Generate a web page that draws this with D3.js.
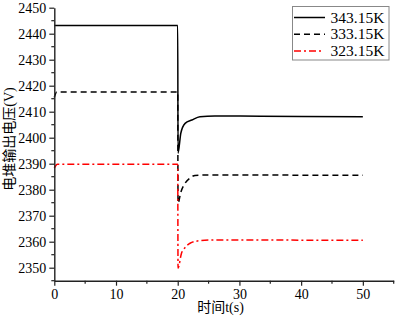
<!DOCTYPE html>
<html lang="zh">
<head>
    <meta charset="UTF-8">
    <title>电堆输出电压</title>
    <script src="https://cdn.jsdelivr.net/npm/d3@7/dist/d3.min.js"></script>
    <style>
        body { margin: 0; background: #fff; }
    </style>
</head>
<body>
<script>
    const width = 397, height = 316;
    const serif = "'Liberation Serif', 'Times New Roman', serif";
    const cjk = "'Liberation Serif', 'Noto Sans CJK SC', serif";

    // 数据
    const t343 = [0, 20, 20.05, 20.5, 21.2, 22.3, 23.6, 26, 30, 40, 50];
    const v343 = [2443.2, 2443.2, 2394, 2401.7, 2405.5, 2406.8, 2408.1, 2408.3, 2408.3, 2408.2, 2408.1];
    const t333 = [0, 0.4, 20, 20.05, 20.5, 21.2, 22, 22.8, 25, 30, 40, 50];
    const v333 = [2415.5, 2417.6, 2417.6, 2374.8, 2379, 2382.5, 2384.5, 2385.5, 2385.7, 2385.7, 2385.6, 2385.6];
    const t323 = [0, 0.5, 20, 20.05, 20.6, 21.2, 22, 23.6, 26, 30, 40, 50];
    const v323 = [2388.3, 2389.8, 2389.8, 2349.8, 2355.5, 2357.8, 2359.4, 2360.4, 2360.7, 2360.7, 2360.6, 2360.6];

    const seriesNames = ['343.15K', '333.15K', '323.15K'];
    const xTicks = [0, 10, 20, 30, 40, 50];
    const yTicks = [2350, 2360, 2370, 2380, 2390, 2400, 2410, 2420, 2430, 2440, 2450];

    const series = [
        {name: seriesNames[0], t: t343, v: v343, color: '#000', dash: null},
        {name: seriesNames[1], t: t333, v: v333, color: '#000', dash: '6,4'},
        {name: seriesNames[2], t: t323, v: v323, color: '#ff0000', dash: '7,3,2,3'}
    ];

    const x = d3.scaleLinear().domain([0, 55]).range([54.3, 393.7]);
    const y = d3.scaleLinear().domain([2345, 2450]).range([280.7, 7.7]);

    const svg = d3.select('body').append('svg')
        .attr('width', width)
        .attr('height', height);

    // 曲线
    const line = d3.line()
        .x(d => x(d[0]))
        .y(d => y(d[1]))
        .curve(d3.curveMonotoneX);

    svg.selectAll('path.series')
        .data(series)
        .enter().append('path')
        .attr('class', 'series')
        .attr('fill', 'none')
        .attr('stroke', d => d.color)
        .attr('stroke-width', 1.5)
        .attr('stroke-dasharray', d => d.dash)
        .attr('d', d => line(d.t.map((t, i) => [t, d.v[i]])));

    // 坐标轴
    const xAxis = svg.append('g')
        .attr('transform', `translate(0,${y(2345)})`)
        .call(d3.axisBottom(x).tickValues(xTicks).tickFormat(d3.format('d'))
            .tickSize(5).tickSizeOuter(0).tickPadding(3));
    const yAxis = svg.append('g')
        .attr('transform', `translate(${x(0)},0)`)
        .call(d3.axisLeft(y).tickValues(yTicks).tickFormat(d3.format('d'))
            .tickSize(5).tickSizeOuter(0).tickPadding(3));

    [xAxis, yAxis].forEach(g => {
        g.attr('font-family', serif).attr('font-size', 14);
        g.select('.domain').attr('stroke', '#222').attr('stroke-width', 1.4);
        g.selectAll('.tick line').attr('stroke', '#222').attr('stroke-width', 1.2);
        g.selectAll('.tick text').attr('fill', '#000');
    });

    // 次刻度
    svg.append('g').selectAll('line')
        .data(d3.range(5, 60, 10))
        .enter().append('line')
        .attr('x1', d => x(d)).attr('x2', d => x(d))
        .attr('y1', y(2345)).attr('y2', y(2345) + 3)
        .attr('stroke', '#222').attr('stroke-width', 1.2);
    svg.append('g').selectAll('line')
        .data(d3.range(2345, 2450, 10))
        .enter().append('line')
        .attr('x1', x(0) - 3).attr('x2', x(0))
        .attr('y1', d => y(d)).attr('y2', d => y(d))
        .attr('stroke', '#222').attr('stroke-width', 1.2);

    // 轴标题
    svg.append('text')
        .attr('x', 220.5).attr('y', 312)
        .attr('text-anchor', 'middle')
        .attr('font-family', cjk).attr('font-size', 14)
        .text('时间t(s)');
    svg.append('text')
        .attr('transform', 'translate(14,139) rotate(-90)')
        .attr('text-anchor', 'middle')
        .attr('font-family', cjk).attr('font-size', 14)
        .text('电堆输出电压(V)');

    // 图例
    const legend = svg.append('g');
    legend.append('rect')
        .attr('x', 292.5).attr('y', 6.5)
        .attr('width', 96.5).attr('height', 53.5)
        .attr('fill', '#fff')
        .attr('stroke', '#888');
    const item = legend.selectAll('g.item')
        .data(series)
        .enter().append('g')
        .attr('class', 'item')
        .attr('transform', (d, i) => `translate(0,${17.5 + i * 16.8})`);
    item.append('line')
        .attr('x1', 294).attr('x2', d => d.dash === '7,3,2,3' ? 322 : 325)
        .attr('y1', 0).attr('y2', 0)
        .attr('stroke', d => d.color)
        .attr('stroke-width', 1.5)
        .attr('stroke-dasharray', d => d.dash);
    item.append('text')
        .attr('x', 330.5).attr('y', 5)
        .attr('font-family', serif).attr('font-size', 15.5)
        .text(d => d.name);
</script>
</body>
</html>
